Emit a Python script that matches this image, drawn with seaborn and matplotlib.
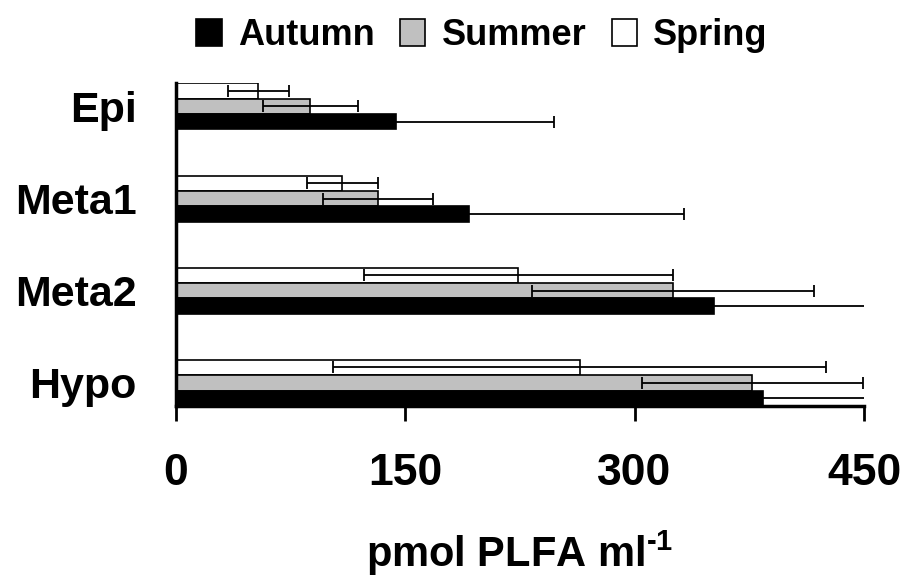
import pandas as pd
import matplotlib
matplotlib.use("Agg")
import matplotlib.pyplot as plt
import seaborn as sns
from matplotlib.patches import Patch

# PLFA per layer and season
layers = ["Epi", "Meta1", "Meta2", "Hypo"]
seasons = ["Spring", "Summer", "Autumn"]
spring = [54, 109, 224, 264]
spring_err = [20, 23, 101, 161]
summer = [88, 132, 325, 377]
summer_err = [31, 36, 92, 72]
autumn = [144, 192, 352, 384]
autumn_err = [103, 140, 120, 90]
x_ticks = [0, 150, 300, 450]
season_colors = {"Spring": "white", "Summer": "#c0c0c0", "Autumn": "black"}

rows = []
for season, vals, errs in [("Spring", spring, spring_err),
                           ("Summer", summer, summer_err),
                           ("Autumn", autumn, autumn_err)]:
    for layer, v, e in zip(layers, vals, errs):
        rows.append({"layer": layer, "season": season, "value": v, "err": e})
df = pd.DataFrame(rows)

sns.set_theme(style="white")
plt.rcParams["font.family"] = ["Liberation Sans", "DejaVu Sans"]
plt.rcParams["text.color"] = "black"
plt.rcParams["mathtext.fontset"] = "custom"
plt.rcParams["mathtext.rm"] = "Liberation Sans:bold"
plt.rcParams["mathtext.bf"] = "Liberation Sans:bold"
plt.rcParams["mathtext.default"] = "bf"

fig = plt.figure(figsize=(9.01, 5.79), dpi=100)
ax = fig.add_axes([0.195, 0.299, 0.764, 0.557])

sns.barplot(data=df, y="layer", x="value", hue="season", order=layers,
            hue_order=seasons, palette=season_colors, orient="h", width=0.5,
            errorbar=None, edgecolor="black", linewidth=1.2, legend=False, ax=ax)

# error bars on top of each bar, positions taken from the drawn patches
for cont, season in zip(ax.containers, seasons):
    sub = df[df["season"] == season].set_index("layer").loc[layers]
    ys = [b.get_y() + b.get_height() / 2 for b in cont]
    xs = [b.get_width() for b in cont]
    ax.errorbar(xs, ys, xerr=sub["err"].values, fmt="none", ecolor="black",
                elinewidth=1.3, capsize=4, capthick=1.3, zorder=5)

ax.set_xlim(0, 450)
ax.set_ylim(3.25, -0.25)
ax.set_xticks(x_ticks)
ax.set_xticklabels([str(t) for t in x_ticks])
sns.despine(ax=ax)
for side in ["left", "bottom"]:
    ax.spines[side].set_linewidth(2.5)
    ax.spines[side].set_color("black")
ax.tick_params(axis="x", direction="out", length=11, width=2, color="black",
               pad=23, labelsize=32, bottom=True)
ax.tick_params(axis="y", length=0, pad=28, labelsize=31)
for lab in ax.get_xticklabels() + ax.get_yticklabels():
    lab.set_fontweight("bold")
    lab.set_color("black")
ax.set_ylabel("")
ax.set_xlabel(r"pmol PLFA ml$^{\text{-}1}$", fontsize=30, fontweight="bold",
              color="black", labelpad=25)

handles = [Patch(facecolor=season_colors[s], edgecolor="black", linewidth=1.2)
           for s in ["Autumn", "Summer", "Spring"]]
fig.legend(handles, ["Autumn", "Summer", "Spring"], loc="upper center",
           bbox_to_anchor=(0.535, 1.025), ncol=3, frameon=False,
           prop={"weight": "bold", "size": 26}, handlelength=0.7,
           handleheight=0.75, handletextpad=0.45, columnspacing=0.7,
           labelcolor="black")

fig.savefig("out.png", dpi=100)
